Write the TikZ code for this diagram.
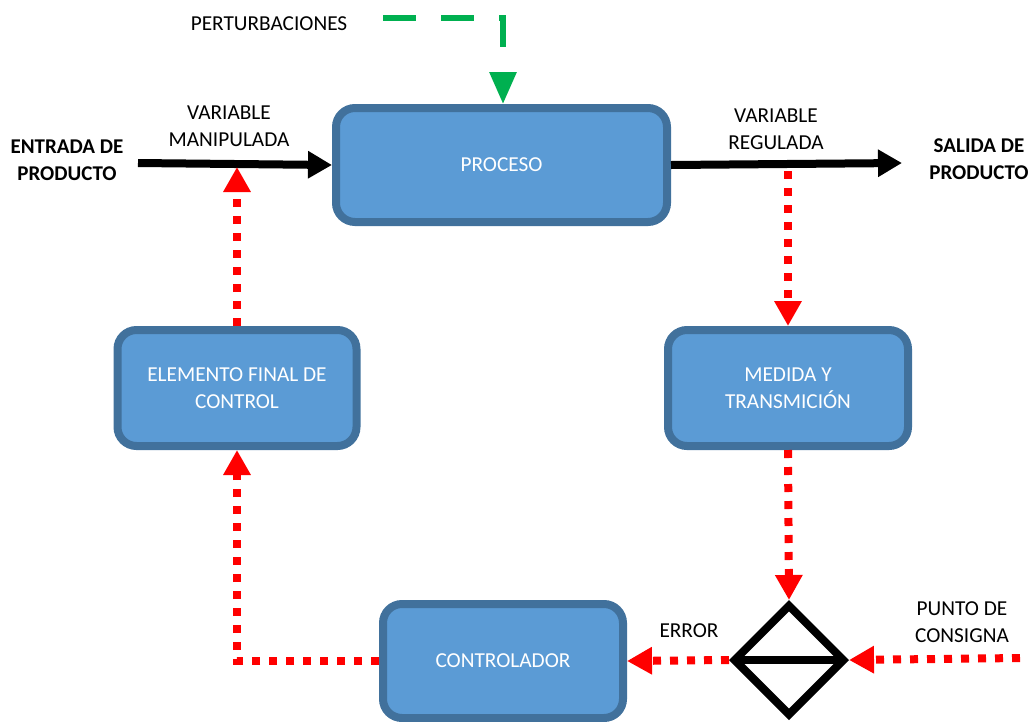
\documentclass[tikz,border=0pt]{standalone}
\usepackage{fontspec}
\setmainfont{Carlito}
\usetikzlibrary{arrows.meta,shapes.geometric}
\definecolor{boxfill}{HTML}{5B9BD5}
\definecolor{boxline}{HTML}{41719C}
\definecolor{pertgreen}{HTML}{00B050}
\definecolor{sigred}{HTML}{FF0000}
\tikzset{
  txt/.style={font=\fontsize{21.3}{27.5}\selectfont, align=center, inner sep=0pt},
  btxt/.style={txt, font=\fontsize{21}{27}\selectfont\bfseries},
  block/.style={rectangle, rounded corners=19pt, draw=boxline, fill=boxfill, line width=8pt,
    text=white, font=\fontsize{21.3}{27.5}\selectfont, align=center, inner sep=0pt},
  flow/.style={line width=8pt, black, -{Triangle[length=24pt,width=26pt]}},
  sig/.style={line width=8pt, sigred, dash pattern=on 8pt off 9pt, -{Triangle[length=25pt,width=26pt]}},
  dist/.style={line width=6pt, pertgreen, dash pattern=on 33pt off 25pt, -{Triangle[length=32pt,width=26pt]}},
}
\begin{document}
\begin{tikzpicture}[x=1pt,y=-1pt]
\useasboundingbox (0,0) rectangle (1034,721);

% blocks
\node[block, minimum width=331pt, minimum height=114pt] (proc) at (501.5,165) {PROCESO};
\node[block, minimum width=239pt, minimum height=116pt] (elem) at (237,388) {ELEMENTO FINAL DE\\CONTROL};
\node[block, minimum width=240pt, minimum height=116pt] (med) at (788,388) {MEDIDA Y\\TRANSMICIÓN};
\node[block, minimum width=240pt, minimum height=114pt] (ctrl) at (503,661) {CONTROLADOR};

% summing junction
\node[diamond, draw=black, line width=8pt, minimum width=112pt, minimum height=112pt, inner sep=0pt, aspect=1] (sum) at (789,660) {};
\draw[line width=8pt, black, shorten <=4pt, shorten >=4pt] (sum.west) -- (sum.east);

% labels
\node[txt] (pert) at (269,24) {PERTURBACIONES};
\node[txt] (vm) at (229,126) {VARIABLE\\MANIPULADA};
\node[btxt] (ent) at (67,160) {ENTRADA DE\\PRODUCTO};
\node[txt] (vr) at (776,129) {VARIABLE\\REGULADA};
\node[btxt] (sal) at (979,159) {SALIDA DE\\PRODUCTO};
\node[txt] (err) at (689,631) {ERROR};
\node[txt] (pc) at (962,622) {PUNTO DE\\CONSIGNA};

% free ends
\coordinate (ein) at (138,163);
\coordinate (sout) at (902,163);
\coordinate (pstart) at (383,18);
\coordinate (pcorner) at (503,18);
\coordinate (rv) at (788,171);
\coordinate (mv) at (237,167);
\coordinate (sp) at (1020,658);

% connectors
\draw[dist] (pstart) -- (pcorner) -- (proc.north -| pcorner);
\draw[flow] (ein) -- (proc.west);
\draw[flow] (proc.east) -- (sout);
\draw[sig] (rv) -- (med.north);
\draw[sig] (med.south) -- (sum.north);
\draw[sig] (sp) -- (sum.east);
\draw[sig] (sum.west) -- (ctrl.east);
\draw[sig] (ctrl.west) -| (elem.south);
\draw[sig] (elem.north) -- (mv);
\end{tikzpicture}
\end{document}
